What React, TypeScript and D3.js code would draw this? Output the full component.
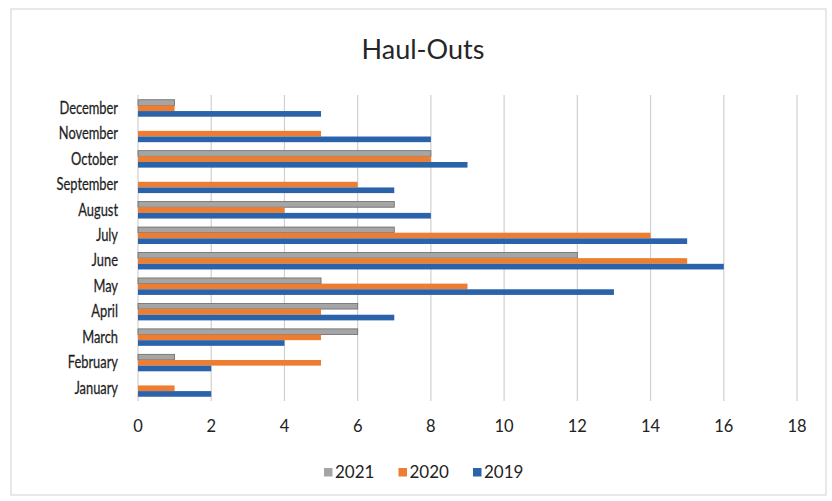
import React from "react";
import * as d3 from "d3";

const months = ["January","February","March","April","May","June","July","August","September","October","November","December"];
const series2021 = [0, 1, 6, 6, 5, 12, 7, 7, 0, 8, 0, 1];
const series2020 = [1, 5, 5, 5, 9, 15, 14, 4, 6, 8, 5, 1];
const series2019 = [2, 2, 4, 7, 13, 16, 15, 8, 7, 9, 8, 5];
const seriesNames = ["2021", "2020", "2019"];
const seriesColors = ["#A5A5A5", "#ED7D31", "#2B63AA"];
const xTicks = [0, 2, 4, 6, 8, 10, 12, 14, 16, 18];
const title = "Haul-Outs";

const W = 832, H = 501;
const FONT = "Lato, 'Open Sans', sans-serif";

export default function App() {
  const x = d3.scaleLinear().domain([0, 18]).range([138, 797]);
  const y = d3.scaleBand<string>().domain([...months].reverse()).range([95.5, 401]).paddingInner(0).paddingOuter(0);
  const inner = d3.scaleBand<string>().domain(seriesNames).range([0, y.bandwidth()]).paddingInner(0).paddingOuter(0.75);
  const data = [series2021, series2020, series2019];

  return (
    <svg width={W} height={H} style={{ position: "absolute", left: 0, top: 0, background: "#fff" }} fontFamily={FONT}>
      <rect x={11} y={9} width={815} height={486} fill="#fff" stroke="#d9d9d9" strokeWidth={1.2} />
      <text x={423} y={59} textAnchor="middle" fontSize={27} fill="#262626">{title}</text>
      {xTicks.map(t => (
        <line key={"g" + t} x1={x(t)} x2={x(t)} y1={95} y2={401} stroke="#d0d0d0" strokeWidth={1.2} />
      ))}
      {data.map((vals, si) => (
        <g key={seriesNames[si]}>
          {months.map((m, i) => (
            <rect key={m}
              x={x(0)}
              y={(y(m) as number) + (inner(seriesNames[si]) as number)}
              width={Math.max(0, x(vals[i]) - x(0))}
              height={inner.bandwidth()}
              fill={seriesColors[si]}
              stroke={si === 0 ? "#6a6a6a" : "none"}
              strokeWidth={si === 0 ? 0.8 : 0}
            />
          ))}
        </g>
      ))}
      {months.map(m => (
        <text key={"l" + m}
          transform={`translate(118,${(y(m) as number) + y.bandwidth() / 2 + 5.5}) scale(0.78,1)`}
          textAnchor="end" fontSize={16.5} fill="#1e1e1e" stroke="#1e1e1e" strokeWidth={0.25}>{m}</text>
      ))}
      {xTicks.map(t => (
        <text key={"t" + t} x={x(t)} y={432} textAnchor="middle" fontSize={16.5} fill="#222">{t}</text>
      ))}
      {seriesNames.map((s, i) => {
        const lx = 324 + i * 74.5;
        return (
          <g key={"lg" + s}>
            <rect x={lx} y={468} width={8.5} height={8.5} fill={seriesColors[i]} />
            <text x={lx + 11} y={478} fontSize={17} fill="#222">{s}</text>
          </g>
        );
      })}
    </svg>
  );
}
